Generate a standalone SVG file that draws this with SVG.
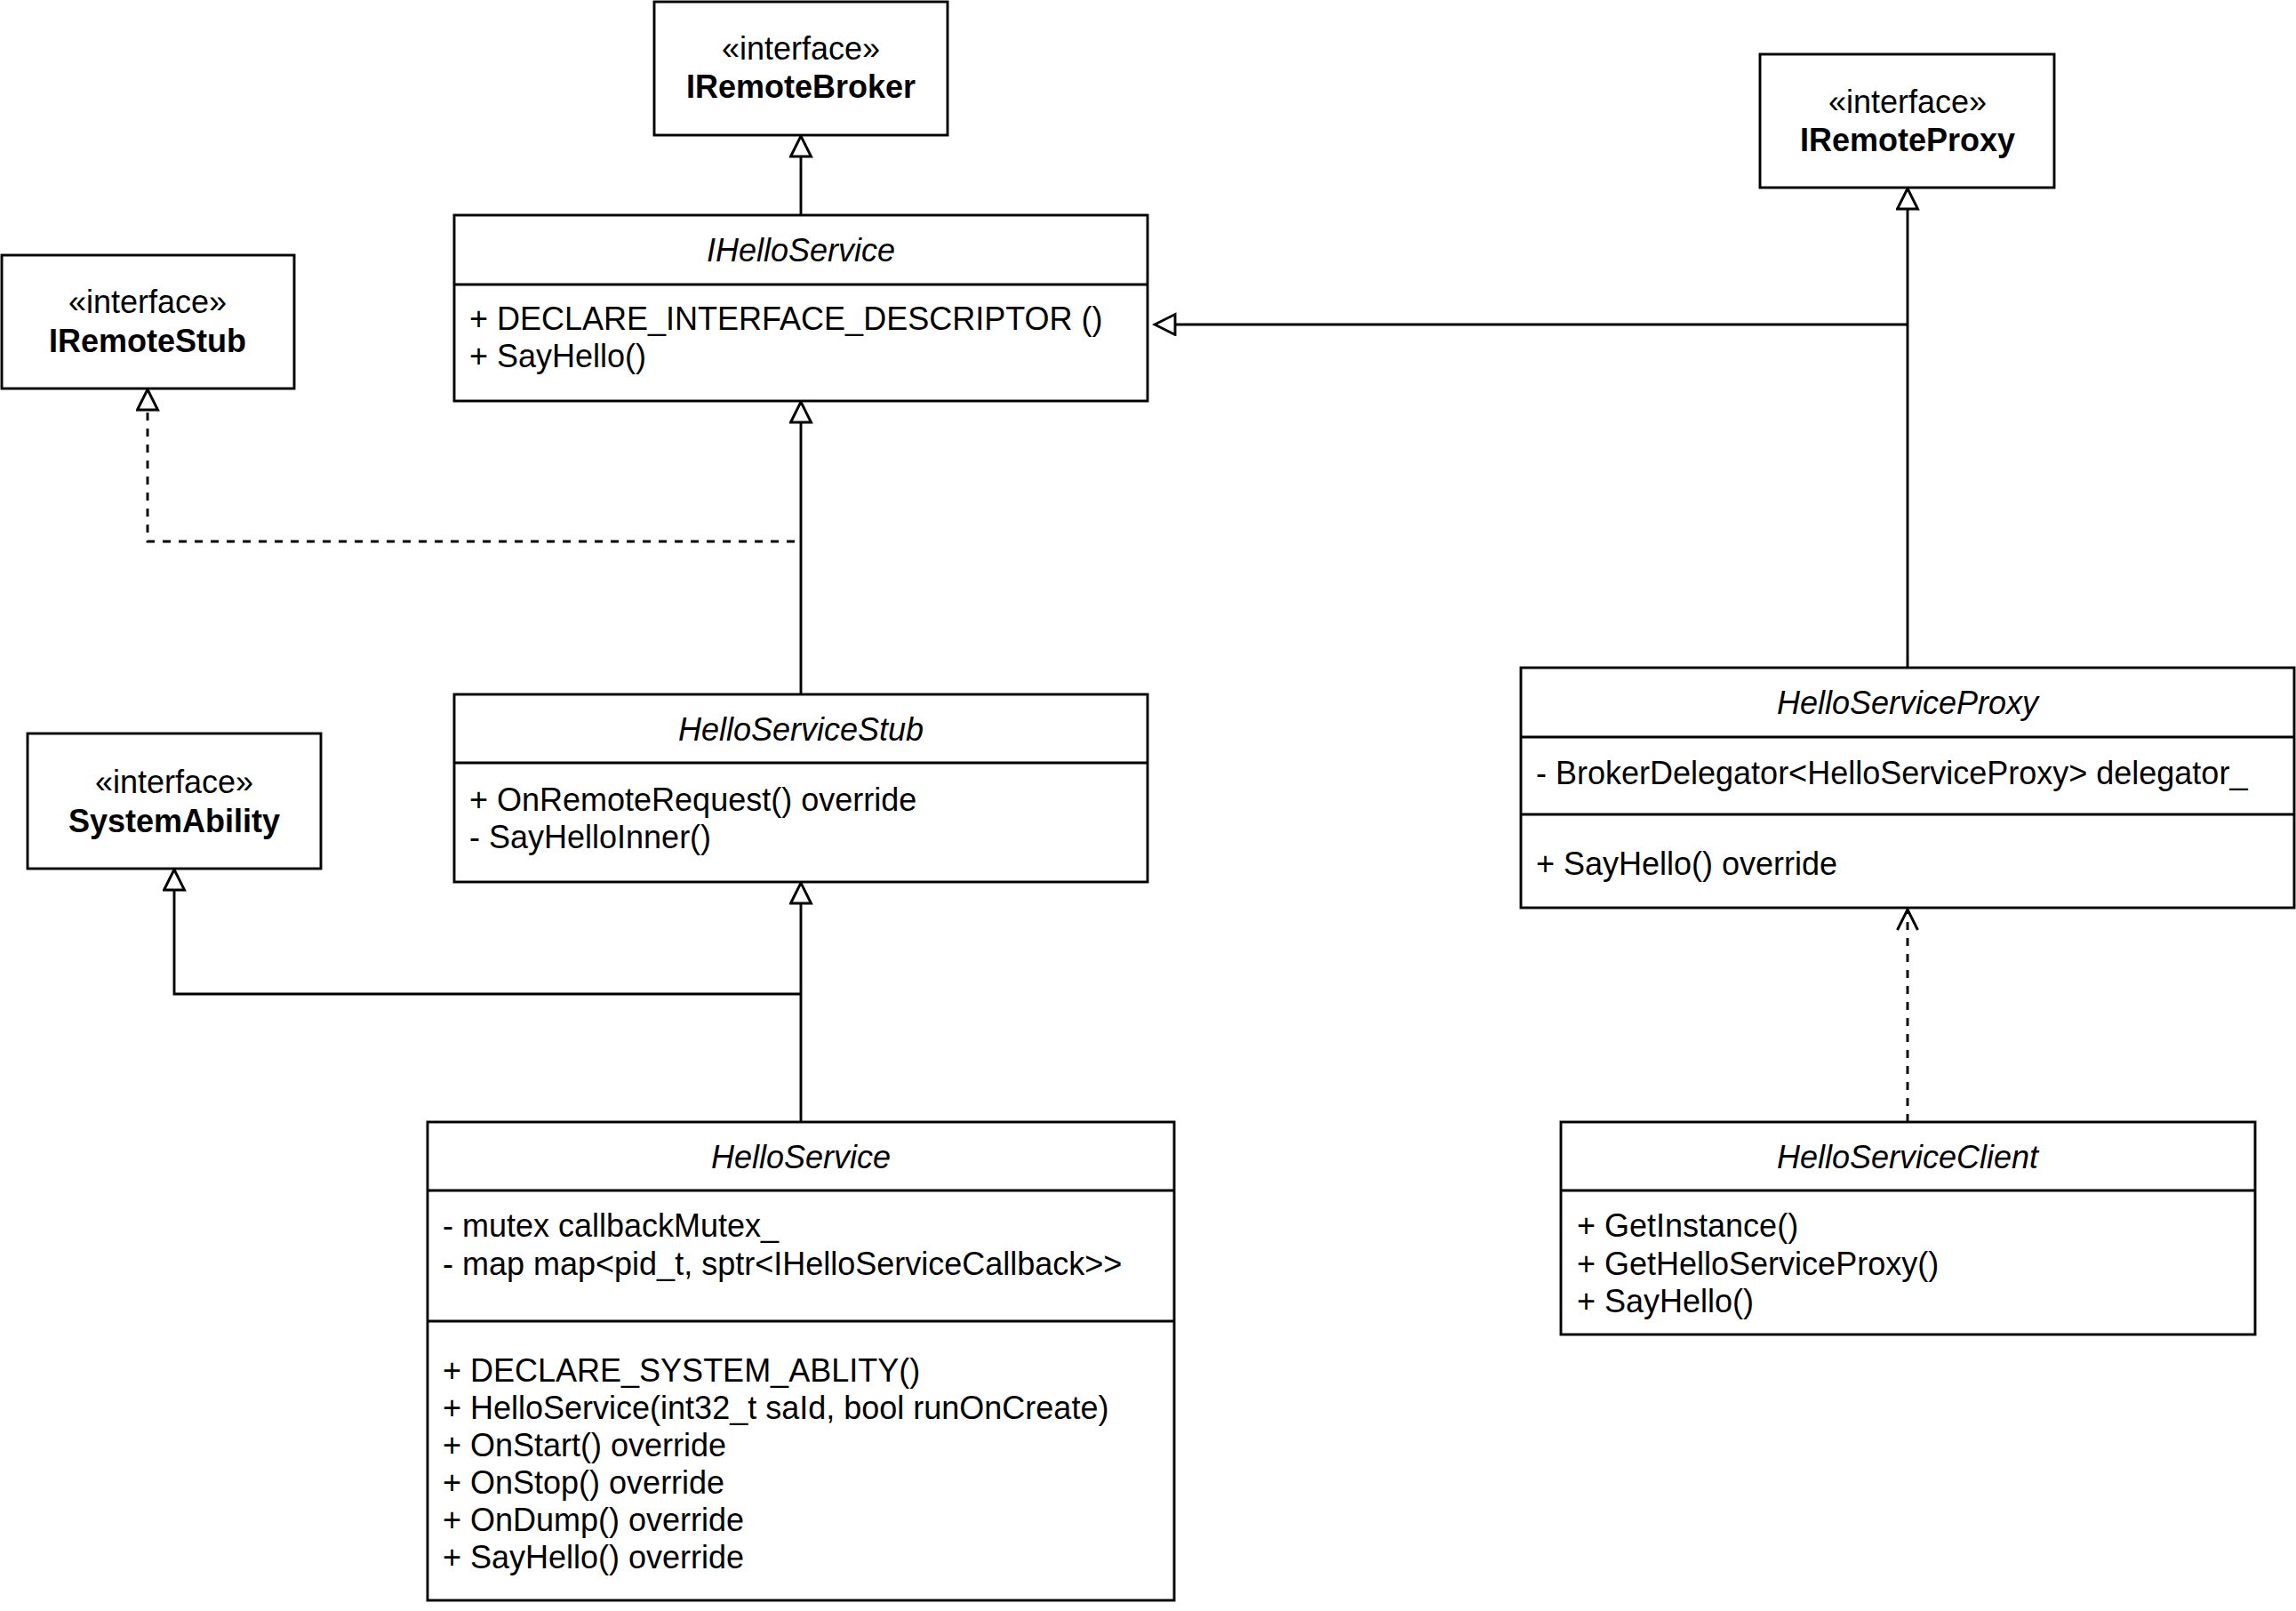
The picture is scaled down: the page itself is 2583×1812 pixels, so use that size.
<svg xmlns="http://www.w3.org/2000/svg" width="2583" height="1812" viewBox="0 0 2583 1812">
<style>
  .box { fill: #ffffff; stroke: #000000; stroke-width: 2.9; }
  .div { stroke: #000000; stroke-width: 2.9; fill: none; }
  .t { font-family: "Liberation Sans", Arial, Helvetica, sans-serif; font-size: 36px; fill: #000000; }
  .c { text-anchor: middle; }
  .it { font-style: italic; }
  .b { font-weight: bold; }
  .edge { fill: none; stroke: #000000; stroke-width: 2.9; }
  .dash { stroke-dasharray: 9 9; }
</style>
<defs>
  <marker id="tri" markerUnits="userSpaceOnUse" markerWidth="28" markerHeight="28" viewBox="0 0 28 28" refX="25" refY="13" orient="auto">
    <path d="M2,1.5 L25,13 L2,24.5 Z" fill="#ffffff" stroke="#000000" stroke-width="2.9"/>
  </marker>
  <marker id="open" markerUnits="userSpaceOnUse" markerWidth="28" markerHeight="28" viewBox="0 0 28 28" refX="25" refY="13" orient="auto">
    <path d="M2,1.5 L25,13 L2,24.5" fill="none" stroke="#000000" stroke-width="2.9"/>
  </marker>
</defs>
<rect width="2583" height="1812" fill="#ffffff"/>

<g id="connectors">
  <path class="edge" d="M901,242 L901,153" marker-end="url(#tri)"/>
  <path class="edge" d="M901,781 L901,452" marker-end="url(#tri)"/>
  <path class="edge dash" d="M894,609 L166,609 L166,438" marker-end="url(#tri)"/>
  <path class="edge" d="M901,1262 L901,993" marker-end="url(#tri)"/>
  <path class="edge" d="M901,1118 L196,1118 L196,978" marker-end="url(#tri)"/>
  <path class="edge" d="M2146,751 L2146,212" marker-end="url(#tri)"/>
  <path class="edge" d="M2146,365 L1299,365" marker-end="url(#tri)"/>
  <path class="edge dash" d="M2146,1262 L2146,1023" marker-end="url(#open)"/>
</g>

<g id="IRemoteBroker">
  <rect class="box" x="736" y="2" width="330" height="150"/>
  <text class="t c" x="901" y="67">«interface»</text>
  <text class="t c b" x="901" y="110">IRemoteBroker</text>
</g>

<g id="IRemoteProxy">
  <rect class="box" x="1980" y="61" width="331" height="150"/>
  <text class="t c" x="2146" y="127">«interface»</text>
  <text class="t c b" x="2146" y="170">IRemoteProxy</text>
</g>

<g id="IRemoteStub">
  <rect class="box" x="2" y="287" width="329" height="150"/>
  <text class="t c" x="166" y="352">«interface»</text>
  <text class="t c b" x="166" y="396">IRemoteStub</text>
</g>

<g id="SystemAbility">
  <rect class="box" x="31" y="825" width="330" height="152"/>
  <text class="t c" x="196" y="892">«interface»</text>
  <text class="t c b" x="196" y="936">SystemAbility</text>
</g>

<g id="IHelloService">
  <rect class="box" x="511" y="242" width="780" height="209"/>
  <line class="div" x1="511" y1="320" x2="1291" y2="320"/>
  <text class="t c it" x="901" y="294">IHelloService</text>
  <text class="t" x="528" y="371">+ DECLARE_INTERFACE_DESCRIPTOR ()</text>
  <text class="t" x="528" y="413">+ SayHello()</text>
</g>

<g id="HelloServiceStub">
  <rect class="box" x="511" y="781" width="780" height="211"/>
  <line class="div" x1="511" y1="858" x2="1291" y2="858"/>
  <text class="t c it" x="901" y="833">HelloServiceStub</text>
  <text class="t" x="528" y="912">+ OnRemoteRequest() override</text>
  <text class="t" x="528" y="954">- SayHelloInner()</text>
</g>

<g id="HelloServiceProxy">
  <rect class="box" x="1711" y="751" width="870" height="270"/>
  <line class="div" x1="1711" y1="829" x2="2581" y2="829"/>
  <line class="div" x1="1711" y1="916" x2="2581" y2="916"/>
  <text class="t c it" x="2146" y="803">HelloServiceProxy</text>
  <text class="t" x="1728" y="882">- BrokerDelegator&lt;HelloServiceProxy&gt; delegator_</text>
  <text class="t" x="1728" y="984">+ SayHello() override</text>
</g>

<g id="HelloService">
  <rect class="box" x="481" y="1262" width="840" height="538"/>
  <line class="div" x1="481" y1="1339" x2="1321" y2="1339"/>
  <line class="div" x1="481" y1="1486" x2="1321" y2="1486"/>
  <text class="t c it" x="901" y="1314">HelloService</text>
  <text class="t" x="498" y="1391">- mutex callbackMutex_</text>
  <text class="t" x="498" y="1434">- map map&lt;pid_t, sptr&lt;IHelloServiceCallback&gt;&gt;</text>
  <text class="t" x="498" y="1554">+ DECLARE_SYSTEM_ABLITY()</text>
  <text class="t" x="498" y="1596">+ HelloService(int32_t saId, bool runOnCreate)</text>
  <text class="t" x="498" y="1638">+ OnStart() override</text>
  <text class="t" x="498" y="1680">+ OnStop() override</text>
  <text class="t" x="498" y="1722">+ OnDump() override</text>
  <text class="t" x="498" y="1764">+ SayHello() override</text>
</g>

<g id="HelloServiceClient">
  <rect class="box" x="1756" y="1262" width="781" height="239"/>
  <line class="div" x1="1756" y1="1339" x2="2537" y2="1339"/>
  <text class="t c it" x="2146" y="1314">HelloServiceClient</text>
  <text class="t" x="1774" y="1391">+ GetInstance()</text>
  <text class="t" x="1774" y="1434">+ GetHelloServiceProxy()</text>
  <text class="t" x="1774" y="1476">+ SayHello()</text>
</g>
</svg>
